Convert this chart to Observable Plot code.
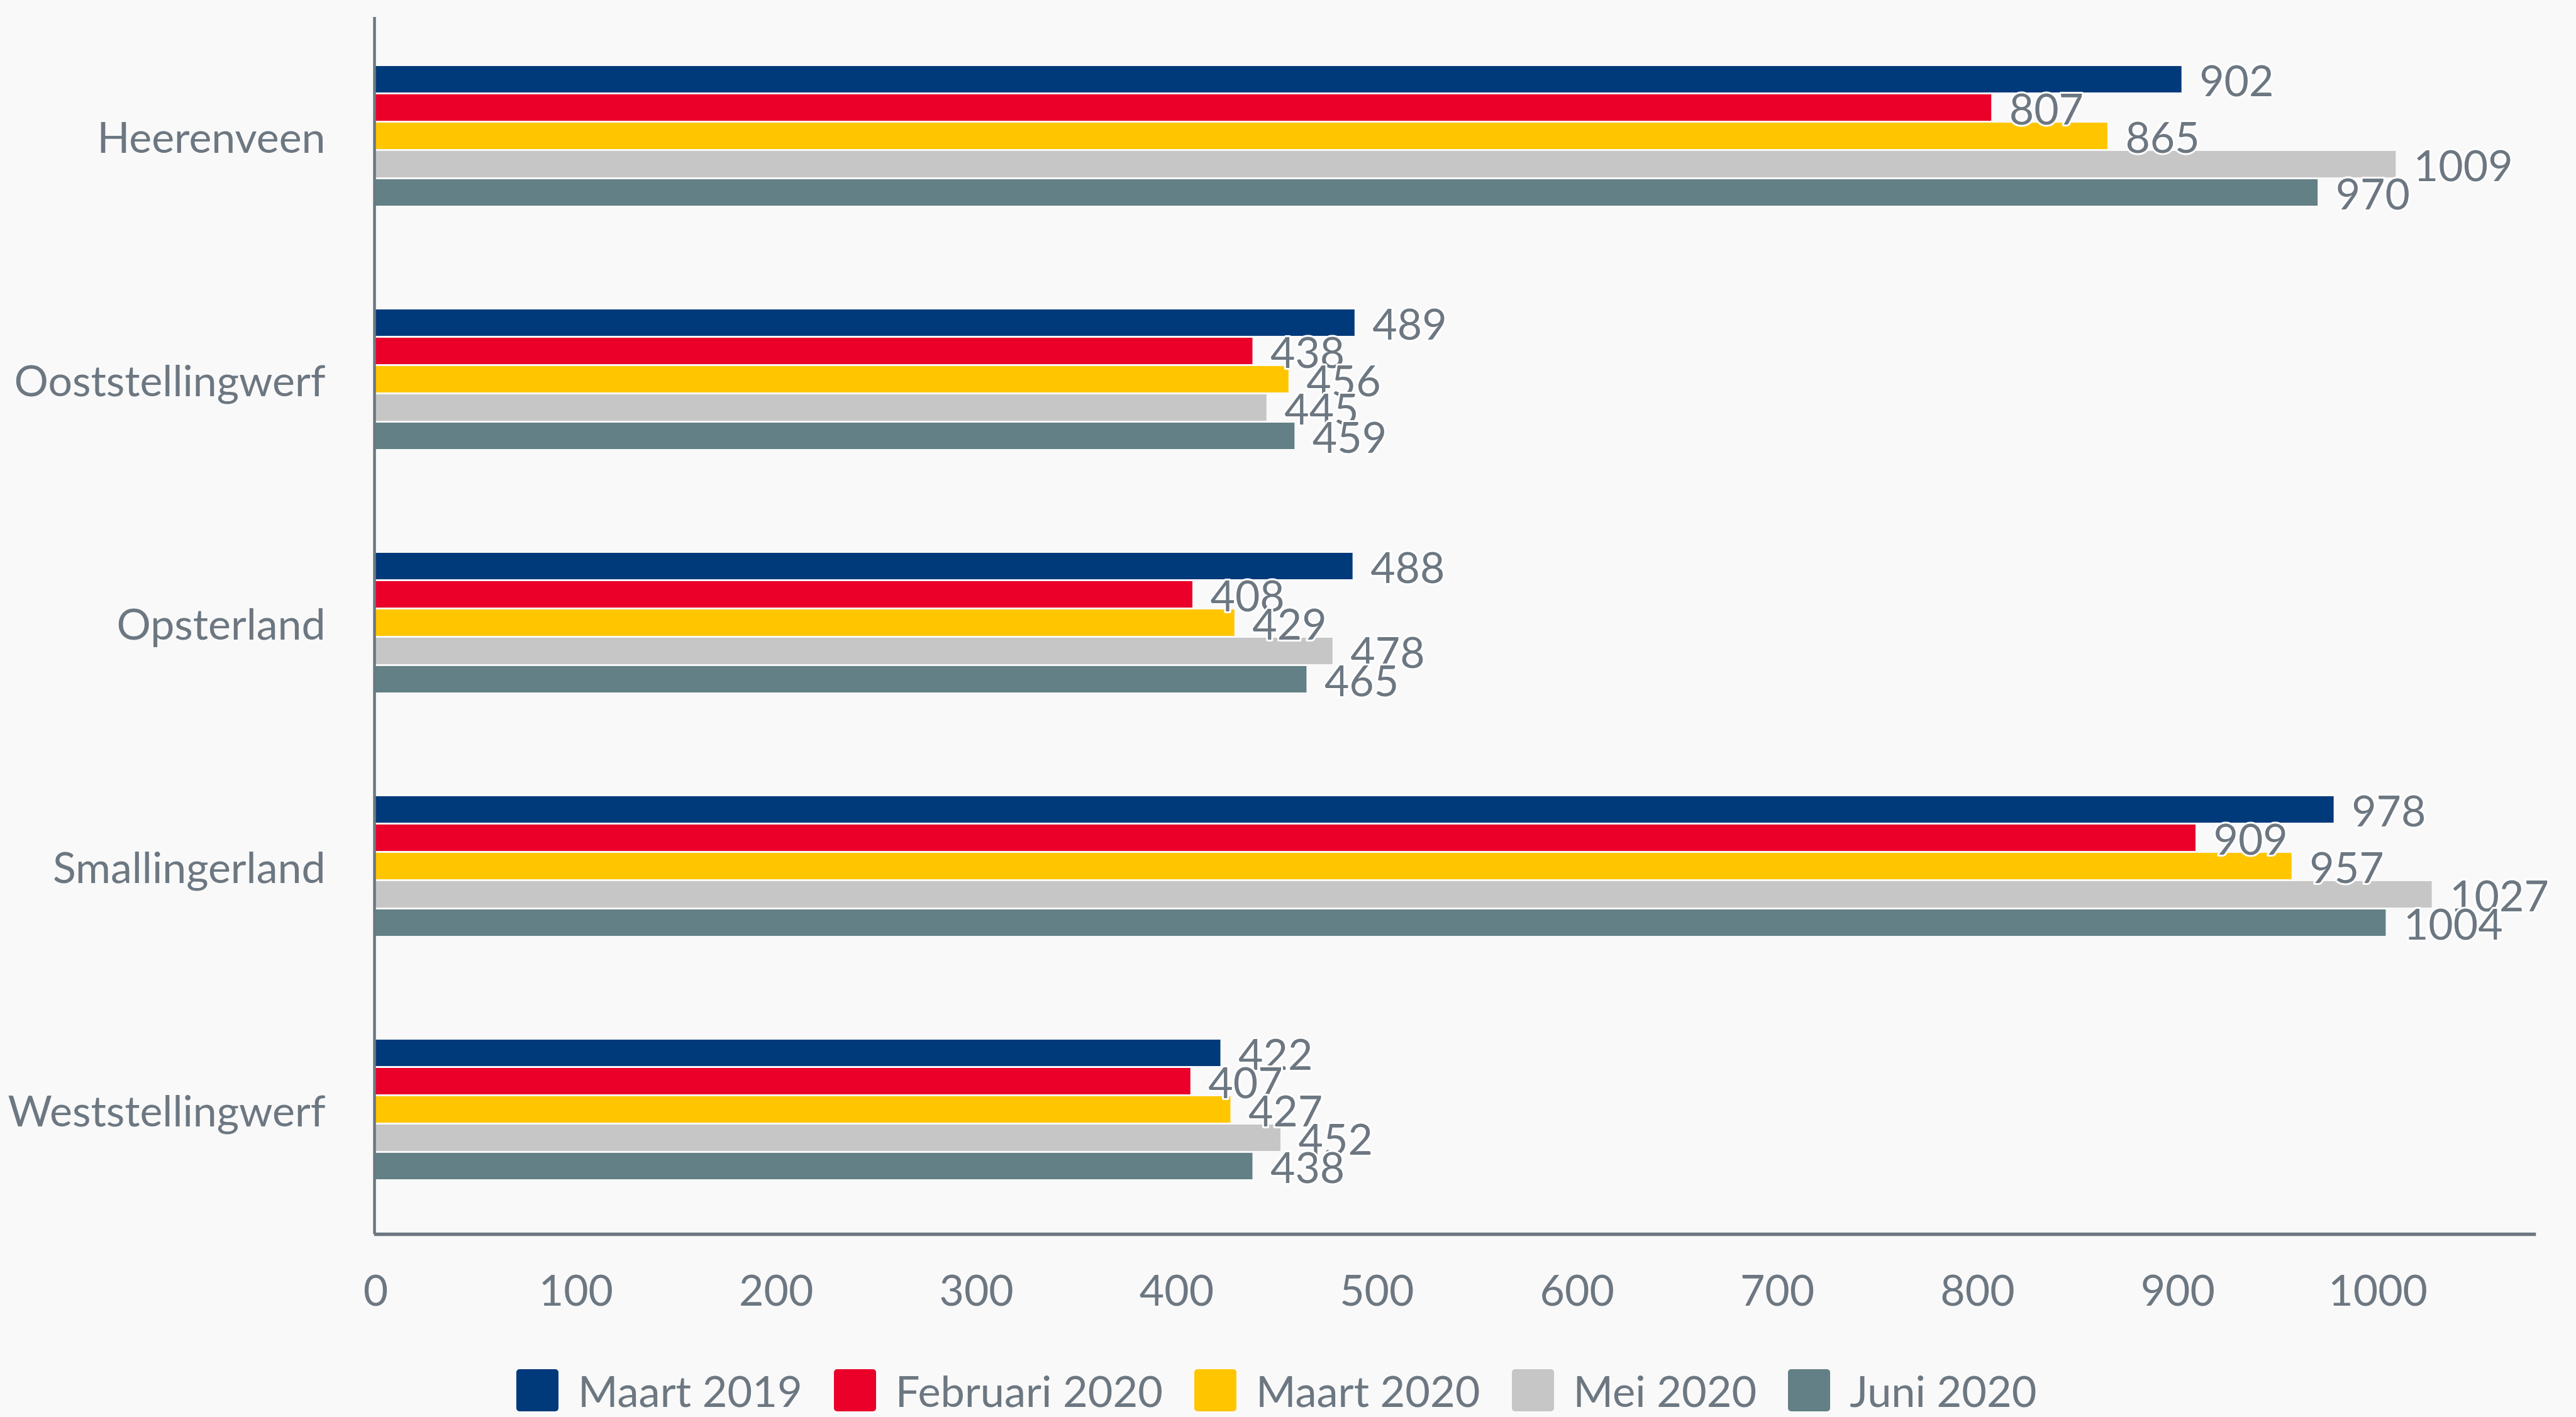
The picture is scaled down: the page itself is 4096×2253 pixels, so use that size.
<!DOCTYPE html>
<html>
<head>
<meta charset="utf-8">
<script src="https://cdn.jsdelivr.net/npm/d3@7"></script>
<script src="https://cdn.jsdelivr.net/npm/@observablehq/plot@0.6"></script>
<style>
html, body { margin: 0; padding: 0; background: #f9f9f9; }
body { width: 4096px; height: 2253px; overflow: hidden; font-family: Lato, sans-serif; }
#chart svg { display: block; }
#legend { display: flex; align-items: center; padding-left: 821px; margin-top: 66px; height: 68px; color: #6c7781; font-size: 68.5px; font-family: Lato, sans-serif; }
.item { display: flex; align-items: center; margin-right: 50px; white-space: nowrap; }
.sw { width: 67px; height: 67px; border-radius: 5px; margin-right: 31px; }
</style>
</head>
<body>
<div id="chart"></div>
<div id="legend"></div>
<script>
const categories = ["Heerenveen", "Ooststellingwerf", "Opsterland", "Smallingerland", "Weststellingwerf"];
const series = ["Maart 2019", "Februari 2020", "Maart 2020", "Mei 2020", "Juni 2020"];
const colors = ["#003a7a", "#ea0029", "#ffc600", "#c6c6c6", "#628085"];
const maart2019 = [902, 489, 488, 978, 422];
const februari2020 = [807, 438, 408, 909, 407];
const maart2020 = [865, 456, 429, 957, 427];
const mei2020 = [1009, 445, 478, 1027, 452];
const juni2020 = [970, 459, 465, 1004, 438];
const xTicks = [0, 100, 200, 300, 400, 500, 600, 700, 800, 900, 1000];

const seriesValues = [maart2019, februari2020, maart2020, mei2020, juni2020];
const data = [];
categories.forEach((cat, i) => {
  series.forEach((s, j) => {
    data.push({cat, series: s, value: seriesValues[j][i]});
  });
});

const gray = "#6c7781";

const chart = Plot.plot({
  width: 4096,
  height: 2110,
  marginLeft: 597,
  marginRight: 67,
  marginTop: 26,
  marginBottom: 147,
  style: {background: "#f9f9f9", fontFamily: "Lato, sans-serif", fontSize: "68px", color: gray},
  facet: {marginTop: 0, marginBottom: 0, marginLeft: 0, marginRight: 0},
  x: {domain: [0, 1078], ticks: xTicks, tickFormat: d => String(d), tickSize: 0, tickPadding: 65, label: null},
  y: {domain: series, axis: null, paddingInner: 0.077, paddingOuter: 1.8, align: 0.47},
  fy: {domain: categories, padding: 0, axis: "left", tickSize: 0, tickPadding: 80, label: null},
  color: {domain: series, range: colors},
  marks: [
    Plot.barX(data, {x: "value", y: "series", fy: "cat", fill: "series"}),
    Plot.text(data, {x: "value", y: "series", fy: "cat", text: d => String(d.value), textAnchor: "start", dx: 28, dy: 5, fill: gray, stroke: "white", strokeWidth: 6, fontSize: 68}),
    Plot.ruleX([0], {stroke: gray, strokeWidth: 4.5, dx: -2}),
    Plot.frame({anchor: "bottom", facetAnchor: "bottom", stroke: gray, strokeWidth: 5.5})
  ]
});
document.getElementById("chart").appendChild(chart);

const legend = document.getElementById("legend");
series.forEach((s, i) => {
  const item = document.createElement("div");
  item.className = "item";
  const sw = document.createElement("div");
  sw.className = "sw";
  sw.style.background = colors[i];
  const label = document.createElement("span");
  label.textContent = s;
  item.appendChild(sw);
  item.appendChild(label);
  legend.appendChild(item);
});
</script>
</body>
</html>
